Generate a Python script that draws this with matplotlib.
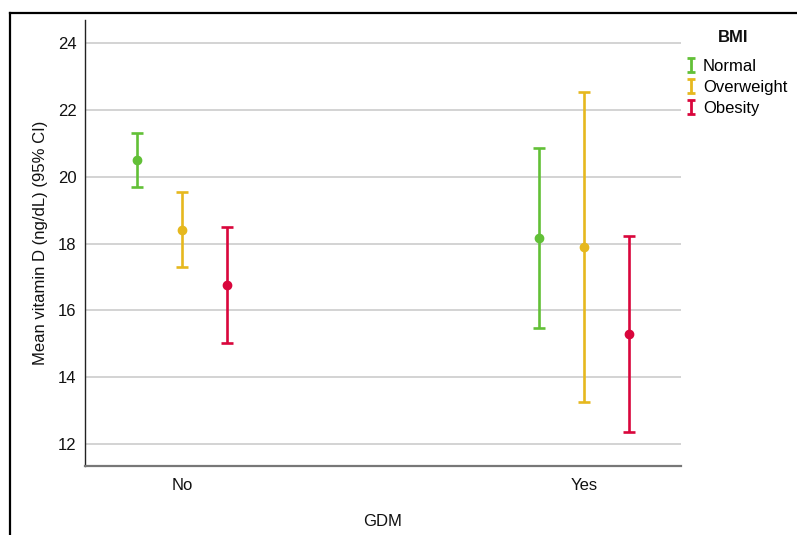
import matplotlib
matplotlib.use("Agg")
import matplotlib.pyplot as plt
from matplotlib.lines import Line2D
from matplotlib.path import Path
import numpy as np

plt.rcParams['font.family'] = ['Liberation Sans', 'DejaVu Sans']

gdm_groups = ["No", "Yes"]
bmi_groups = ["Normal", "Overweight", "Obesity"]
colors = ["#62c037", "#e6b81e", "#d9063c"]

# Mean vitamin D and 95% CI bounds, per BMI group: [No, Yes]
means = {
    "Normal": [20.50, 18.16],
    "Overweight": [18.41, 17.90],
    "Obesity": [16.77, 15.28],
}
ci_low = {
    "Normal": [19.69, 15.47],
    "Overweight": [17.30, 13.27],
    "Obesity": [15.01, 12.37],
}
ci_high = {
    "Normal": [21.31, 20.86],
    "Overweight": [19.54, 22.54],
    "Obesity": [18.50, 18.21],
}

fig = plt.figure(figsize=(7.97, 5.35), dpi=100)
ax = fig.add_axes([85 / 797, 1 - 466 / 535, (681 - 85) / 797, (466 - 20) / 535])

offsets = [-0.112, 0.0, 0.112]
base = np.arange(len(gdm_groups))
for name, col, off in zip(bmi_groups, colors, offsets):
    m = np.array(means[name])
    lo = m - np.array(ci_low[name])
    hi = np.array(ci_high[name]) - m
    ax.errorbar(base + off, m, yerr=[lo, hi], fmt='o', color=col,
                ecolor=col, elinewidth=1.9, capsize=4.0, capthick=1.9,
                markersize=6, zorder=3)

ax.set_xlim(-0.241, 1.241)
ax.set_ylim(11.34, 24.69)
ax.set_yticks([12, 14, 16, 18, 20, 22, 24])
ax.set_xticks(base)
ax.set_xticklabels(gdm_groups)
ax.yaxis.grid(True, color='#c8c8c8', linewidth=1.1)
ax.set_axisbelow(True)
ax.tick_params(length=0, labelsize=12, colors='#111111')
ax.tick_params(axis='y', pad=6)
ax.tick_params(axis='x', pad=9)
for s in ['top', 'right']:
    ax.spines[s].set_visible(False)
ax.spines['left'].set_color('#222222')
ax.spines['left'].set_linewidth(1.0)
ax.spines['bottom'].set_color('#777777')
ax.spines['bottom'].set_linewidth(1.6)

ax.set_xlabel("GDM", fontsize=12, labelpad=15, color='#111111')
ax.set_ylabel("Mean vitamin D (ng/dL) (95% CI)", fontsize=12, labelpad=7,
              color='#111111')

# Legend with I-shaped error bar glyphs
ibar = Path([(-0.6, -1), (0.6, -1), (0, -1), (0, 1), (-0.6, 1), (0.6, 1)],
            [Path.MOVETO, Path.LINETO, Path.MOVETO, Path.LINETO,
             Path.MOVETO, Path.LINETO])
handles = [Line2D([], [], linestyle='none', marker=ibar, markersize=9.5,
                  markeredgewidth=2.0, markerfacecolor='none',
                  markeredgecolor=c) for c in colors]
leg = fig.legend(handles, bmi_groups, loc='upper left',
                 bbox_to_anchor=(686 / 797, 1 - 59 / 535), frameon=False,
                 fontsize=12, handlelength=0.6, handletextpad=0.42,
                 labelspacing=0.35, borderaxespad=0, borderpad=0)
fig.text(733 / 797, 1 - 37.5 / 535, "BMI", ha='center', va='center',
         fontsize=12, fontweight='bold', color='#111111')

# Outer frame
fig.add_artist(Line2D([10 / 797, 1.0], [1 - 13 / 535, 1 - 13 / 535],
                      transform=fig.transFigure, color='black', linewidth=1.6))
fig.add_artist(Line2D([10 / 797, 10 / 797], [0.0, 1 - 13 / 535],
                      transform=fig.transFigure, color='black', linewidth=1.6))

fig.savefig("out.png", dpi=100)
